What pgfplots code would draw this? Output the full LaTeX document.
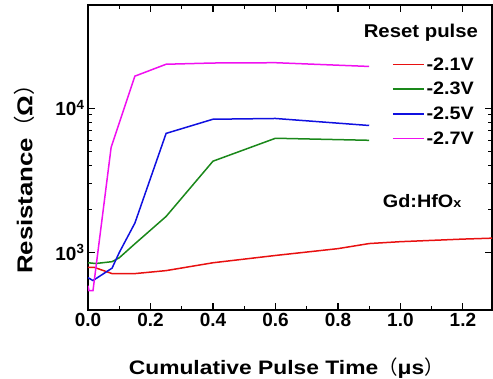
\documentclass[border=0pt]{standalone}
\usepackage{pgfplots}
\pgfplotsset{compat=1.18}
\usepackage{fontspec}
\setmainfont{Liberation Sans}
\newfontfamily\wide[FakeStretch=1.17]{Liberation Sans}
\newfontfamily\wider[FakeStretch=1.2]{Liberation Sans}
\newfontfamily\legf[FakeStretch=1.1]{Liberation Sans}
\newfontfamily\cjk{Noto Sans CJK SC}
\definecolor{cred}{RGB}{232,16,16}
\definecolor{cgreen}{RGB}{26,136,26}
\definecolor{cblue}{RGB}{16,16,224}
\definecolor{cmag}{RGB}{240,16,240}
\begin{document}
\begin{tikzpicture}
\begin{axis}[
  scale only axis, width=404pt, height=305pt,
  ymode=log, xmin=0, xmax=1.293, ymin=400, ymax=52000,
  xtick={0,0.2,0.4,0.6,0.8,1.0,1.2},
  xticklabels={0.0,0.2,0.4,0.6,0.8,1.0,1.2},
  minor x tick num=1,
  ytick={1000,10000},
  yticklabels={10\textsuperscript{3},10\textsuperscript{4}},
  tick align=inside,
  major tick length=7pt, minor tick length=4pt,
  every tick/.style={black, line width=1.1pt},
  axis line style={line width=1.3pt},
  tick label style={font=\fontsize{19}{19}\selectfont\bfseries},
  xlabel={Cumulative Pulse Time{\mdseries\cjk （}μs{\mdseries\cjk ）}},
  ylabel={Resistance{\mdseries\cjk （}Ω{\mdseries\cjk ）}},
  xlabel style={font=\fontsize{19.5}{20}\selectfont\wide\bfseries, at={(axis description cs:0.491,-0.19)}, anchor=center},
  ylabel style={font=\fontsize{21.5}{22}\selectfont\wider\bfseries, at={(axis description cs:-0.158,0.446)}, anchor=center},
  legend style={at={(axis description cs:0.752,0.835)}, anchor=north west, draw=none, fill=none,
    font=\fontsize{18}{18}\selectfont\legf\bfseries, row sep=6.6pt, inner sep=0pt},
  legend cell align=left,
  legend image code/.code={\draw[#1, line width=1.5pt] (0pt,0pt) -- (31pt,0pt);},
]
\addplot[cred, line width=1.5pt] coordinates {(0,790) (0.02,790) (0.077,715) (0.15,715) (0.25,750) (0.4,850) (0.6,955) (0.8,1065) (0.9,1155) (1.0,1190) (1.2,1240) (1.3,1260)};
\addlegendentry{-2.1V}
\addplot[cgreen, line width=1.5pt] coordinates {(0,850) (0.025,840) (0.077,865) (0.1,920) (0.15,1150) (0.25,1780) (0.4,4300) (0.6,6200) (0.9,6000)};
\addlegendentry{-2.3V}
\addplot[cblue, line width=1.5pt] coordinates {(0,670) (0.016,640) (0.077,780) (0.1,1000) (0.15,1600) (0.25,6700) (0.4,8400) (0.6,8500) (0.9,7600)};
\addlegendentry{-2.5V}
\addplot[cmag, line width=1.5pt] coordinates {(0,590) (0.003,545) (0.016,545) (0.074,5350) (0.15,16700) (0.25,20200) (0.4,20600) (0.6,20700) (0.9,19500)};
\addlegendentry{-2.7V}
\node[font=\fontsize{18.5}{18}\selectfont\legf\bfseries] at (axis description cs:0.824,0.908) {Reset pulse};
\node[font=\fontsize{18}{18}\selectfont\legf\bfseries] at (axis description cs:0.827,0.357) {Gd:HfO{\fontsize{13}{13}\selectfont x}};
\end{axis}
\pgfresetboundingbox
\path[use as bounding box] (-88pt,-69pt) rectangle (405pt,310pt);
\end{tikzpicture}
\end{document}
